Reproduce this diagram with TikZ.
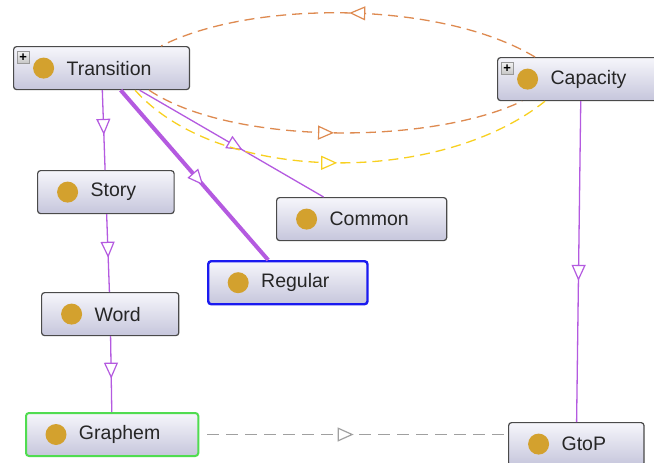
\documentclass[tikz,border=0pt]{standalone}
\usepackage{fontspec}
\setmainfont{Liberation Sans}
\usetikzlibrary{arrows.meta,decorations.markings}
\definecolor{cTop}{HTML}{F6F6FB}
\definecolor{cBot}{HTML}{C6C6DC}
\definecolor{cLine}{HTML}{4A4A4A}
\definecolor{cText}{HTML}{262626}
\definecolor{cGold}{HTML}{D3A12E}
\definecolor{cSub}{HTML}{B45AE0}
\definecolor{cOrng}{HTML}{DE8A50}
\definecolor{cYell}{HTML}{F8D020}
\definecolor{cGray}{HTML}{A0A0A0}
\definecolor{cSel}{HTML}{1A1AF0}
\definecolor{cGrn}{HTML}{50DC50}
\tikzset{
  cls/.style  ={rectangle, rounded corners=3pt, draw=cLine, line width=1.2pt,
                top color=cTop, bottom color=cBot, minimum height=43pt,
                inner xsep=0pt, anchor=north west, text=cText,
                font=\fontsize{19.5}{22}\selectfont,
                execute at begin node={\hspace*{53pt}},
                execute at end node={\hspace*{38pt}},
                path picture={\fill[cGold] ([xshift=30pt]path picture bounding box.west) circle (10.5pt);}},
  plus/.style ={rectangle, draw=gray!80, top color=gray!10, bottom color=gray!45,
                minimum size=12pt, inner sep=0pt, anchor=north west,
                font=\bfseries\fontsize{13}{13}\selectfont},
  isa/.style  ={draw=cSub, line width=1.3pt, postaction=decorate,
                decoration={markings, mark=at position 0.56 with
                {\arrow{Triangle[length=16pt,width=14pt,fill=white,line width=1.2pt]}}}},
  rel/.style  ={line width=1.3pt, dash pattern=on 10pt off 6pt, postaction=decorate,
                decoration={markings, mark=at position 0.5 with
                {\arrow{Triangle[length=16pt,width=14pt,fill=white,line width=1.2pt]}}}},
}
\begin{document}
\begin{tikzpicture}[x=1pt,y=-1pt]
  \path[use as bounding box, fill=white] (0,0) rectangle (654,463);
  % classes
  \node[cls] (Transition) at (13,46) {Transition};
  \node[cls] (Capacity) at (497,57) {Capacity};
  \node[cls] (Story) at (37,170) {Story};
  \node[cls] (Common) at (276,197) {Common};
  \node[cls, draw=cSel, line width=2.4pt] (Regular) at (207,260) {Regular};
  \node[cls] (Word) at (41,292) {Word};
  \node[cls, draw=cGrn, line width=2pt] (Graphem) at (25,412) {Graphem};
  \node[cls] (GtoP) at (508,422) {GtoP};
  \node[plus] (TransitionPlus) at ([shift={(4,5)}]Transition.north west) {+};
  \node[plus] (CapacityPlus) at ([shift={(4,5)}]Capacity.north west) {+};
  % subclass edges
  \draw[isa] (Transition) -- (Story);
  \draw[isa] (Story) -- (Word);
  \draw[isa] (Word) -- (Graphem);
  \draw[isa, line width=4pt] (Transition) -- (Regular);
  \draw[isa] (Transition) -- (Common);
  \draw[isa] (Capacity) -- (GtoP);
  % object properties
  \draw[rel, draw=cOrng] ([xshift=38pt]Capacity.north west)
    .. controls +(-95,-57) and +(90,-46) .. ([xshift=-29pt]Transition.north east);
  \draw[rel, draw=cOrng] ([xshift=-41pt]Transition.south east)
    .. controls +(82,55) and +(-92,44) .. ([xshift=25pt]Capacity.south west);
  \draw[rel, draw=cYell] ([xshift=-55pt]Transition.south east)
    .. controls +(85,95) and +(-105,84) .. ([xshift=48pt]Capacity.south west);
  \draw[rel, draw=cGray, dash pattern=on 12pt off 7pt, shorten <=8pt]
    (Graphem.east) -- (Graphem.east -| GtoP.west);
\end{tikzpicture}
\end{document}
